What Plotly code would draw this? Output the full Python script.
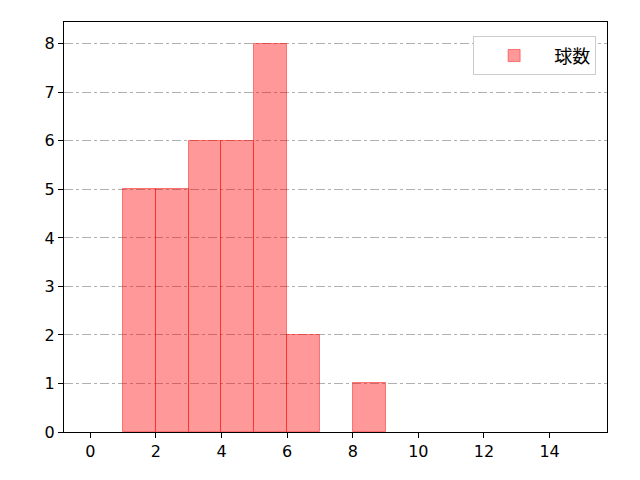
import plotly.graph_objects as go

# histogram bins (left edges) and counts
bin_left = [1, 2, 3, 4, 5, 6, 8]
counts = [5, 5, 6, 6, 8, 2, 1]
series_name = "球数"

fig = go.Figure()
fig.add_trace(
    go.Bar(
        x=bin_left,
        y=counts,
        width=1,
        offset=0,
        name=series_name,
        marker=dict(color="rgba(255,0,0,0.4)", line=dict(color="rgba(255,0,0,0.45)", width=1)),
        showlegend=True,
    )
)

axis_common = dict(
    showline=True,
    linecolor="black",
    linewidth=1.3,
    mirror=True,
    ticks="outside",
    ticklen=5,
    tickcolor="black",
    zeroline=False,
    tickfont=dict(family="DejaVu Sans", size=16, color="black"),
)

fig.update_xaxes(
    range=[-0.8, 15.75],
    tickvals=[0, 2, 4, 6, 8, 10, 12, 14],
    showgrid=False,
    **axis_common,
)
fig.update_yaxes(
    range=[0, 8.45],
    tickvals=list(range(0, 9)),
    showgrid=True,
    gridcolor="#b0b0b0",
    griddash="dashdot",
    gridwidth=1,
    **axis_common,
)

# page body has an 8px offset, margins compensate for it
fig.update_layout(
    width=640,
    height=480,
    margin=dict(l=56, r=41, t=14, b=56),
    plot_bgcolor="white",
    paper_bgcolor="white",
    bargap=0,
    legend=dict(
        x=0.98,
        y=0.965,
        xanchor="right",
        yanchor="top",
        bordercolor="#cccccc",
        borderwidth=1,
        itemwidth=70,
        font=dict(family="Noto Sans CJK JP", size=18, color="black"),
    ),
)

fig.write_html("out.html")
